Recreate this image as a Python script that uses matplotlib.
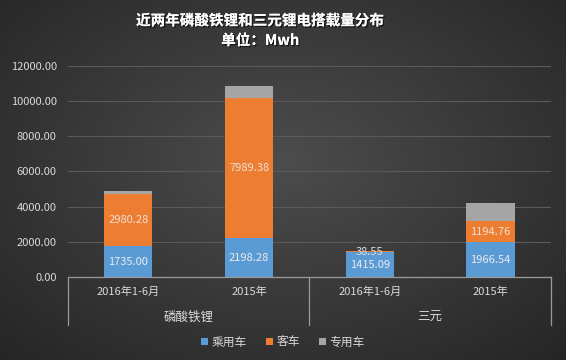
import numpy as np
import matplotlib
matplotlib.use("Agg")
import matplotlib.pyplot as plt
import matplotlib.patheffects as pe
from matplotlib import transforms

plt.rcParams['font.family'] = ['Noto Sans CJK SC', 'DejaVu Sans']

# 数据
groups = ["磷酸铁锂", "三元"]
periods = ["2016年1-6月", "2015年", "2016年1-6月", "2015年"]
passenger = [1735.00, 2198.28, 1415.09, 1966.54]   # 乘用车
bus = [2980.28, 7989.38, 38.55, 1194.76]           # 客车
special = [170, 650, 30, 1040]                     # 专用车（无标签，估计值）
series_names = ["乘用车", "客车", "专用车"]
colors = ["#5B9BD5", "#ED7D31", "#A5A5A5"]
yticks = np.arange(0, 12001, 2000)

fig = plt.figure(figsize=(5.66, 3.60), dpi=100)

# 深色径向渐变背景
bg = fig.add_axes([0, 0, 1, 1], zorder=-10)
yy, xx = np.mgrid[0:1:360j, 0:1:566j]
r = np.sqrt(((xx - 0.5) / 0.75) ** 2 + ((yy - 0.45) / 0.8) ** 2)
shade = np.clip(0.30 - 0.16 * r, 0.14, 0.30)
bg.imshow(np.dstack([shade] * 3), aspect="auto", extent=[0, 1, 0, 1])
bg.axis("off")

ax = fig.add_axes([0.120, 0.2306, 0.8535, 0.5861])
ax.set_facecolor("none")
x = np.arange(len(periods))
w = 0.4
b1 = ax.bar(x, passenger, w, color=colors[0], zorder=3)
b2 = ax.bar(x, bus, w, bottom=passenger, color=colors[1], zorder=3)
bottom3 = np.array(passenger) + np.array(bus)
b3 = ax.bar(x, special, w, bottom=bottom3, color=colors[2], zorder=3)

for i in range(len(x)):
    ax.text(x[i], passenger[i] / 2, f"{passenger[i]:.2f}", ha="center", va="center",
            color="#eaeaea", fontsize=8, zorder=4)
    ax.text(x[i], passenger[i] + bus[i] / 2, f"{bus[i]:.2f}", ha="center", va="center",
            color="#f0e0d4" if bus[i] > 200 else "#dddddd", fontsize=8, zorder=4)

ax.set_xlim(-0.5, len(x) - 0.5)
ax.set_ylim(0, 12000)
ax.set_yticks(yticks)
ax.set_yticklabels([f"{v:.2f}" for v in yticks], color="#d9d9d9", fontsize=8)
ax.tick_params(axis="y", length=0, pad=8)
ax.tick_params(axis="x", length=0, labelbottom=False)
ax.yaxis.grid(True, color="#5a5a5a", linewidth=0.8, zorder=0)
for s in ax.spines.values():
    s.set_visible(False)

# 多级分类坐标轴
tr = transforms.blended_transform_factory(ax.transData, ax.transAxes)
ax.plot([-0.5, 3.5], [0, 0], color="#9a9a9a", lw=0.9, transform=tr, clip_on=False, zorder=5)
for xb in [-0.5, 1.5, 3.5]:
    ax.plot([xb, xb], [0, -0.2275], color="#9a9a9a", lw=0.9, transform=tr, clip_on=False)
for i, p in enumerate(periods):
    ax.text(x[i], -0.071, p, transform=tr, ha="center", va="center",
            color="#d9d9d9", fontsize=8)
for g, name in enumerate(groups):
    ax.text(0.5 + 2 * g, -0.19, name, transform=tr, ha="center", va="center",
            color="#d9d9d9", fontsize=9)

# 图例
leg = fig.legend([b1, b2, b3], series_names, loc="center", bbox_to_anchor=(0.5, 0.05),
                 ncol=3, frameon=False, fontsize=8.5, handlelength=0.6, handleheight=0.6,
                 handletextpad=0.3, columnspacing=1.6, labelcolor="#d9d9d9")

shadow = [pe.withSimplePatchShadow(offset=(1, -1), shadow_rgbFace="black", alpha=0.6), pe.Normal()]
fig.text(0.46, 0.944, "近两年磷酸铁锂和三元锂电搭载量分布", ha="center", va="center",
         color="white", fontsize=10.5, fontweight="bold", path_effects=shadow)
fig.text(0.46, 0.889, "单位：Mwh", ha="center", va="center",
         color="white", fontsize=10.5, fontweight="bold", path_effects=shadow)

fig.savefig("out.png", dpi=100)
